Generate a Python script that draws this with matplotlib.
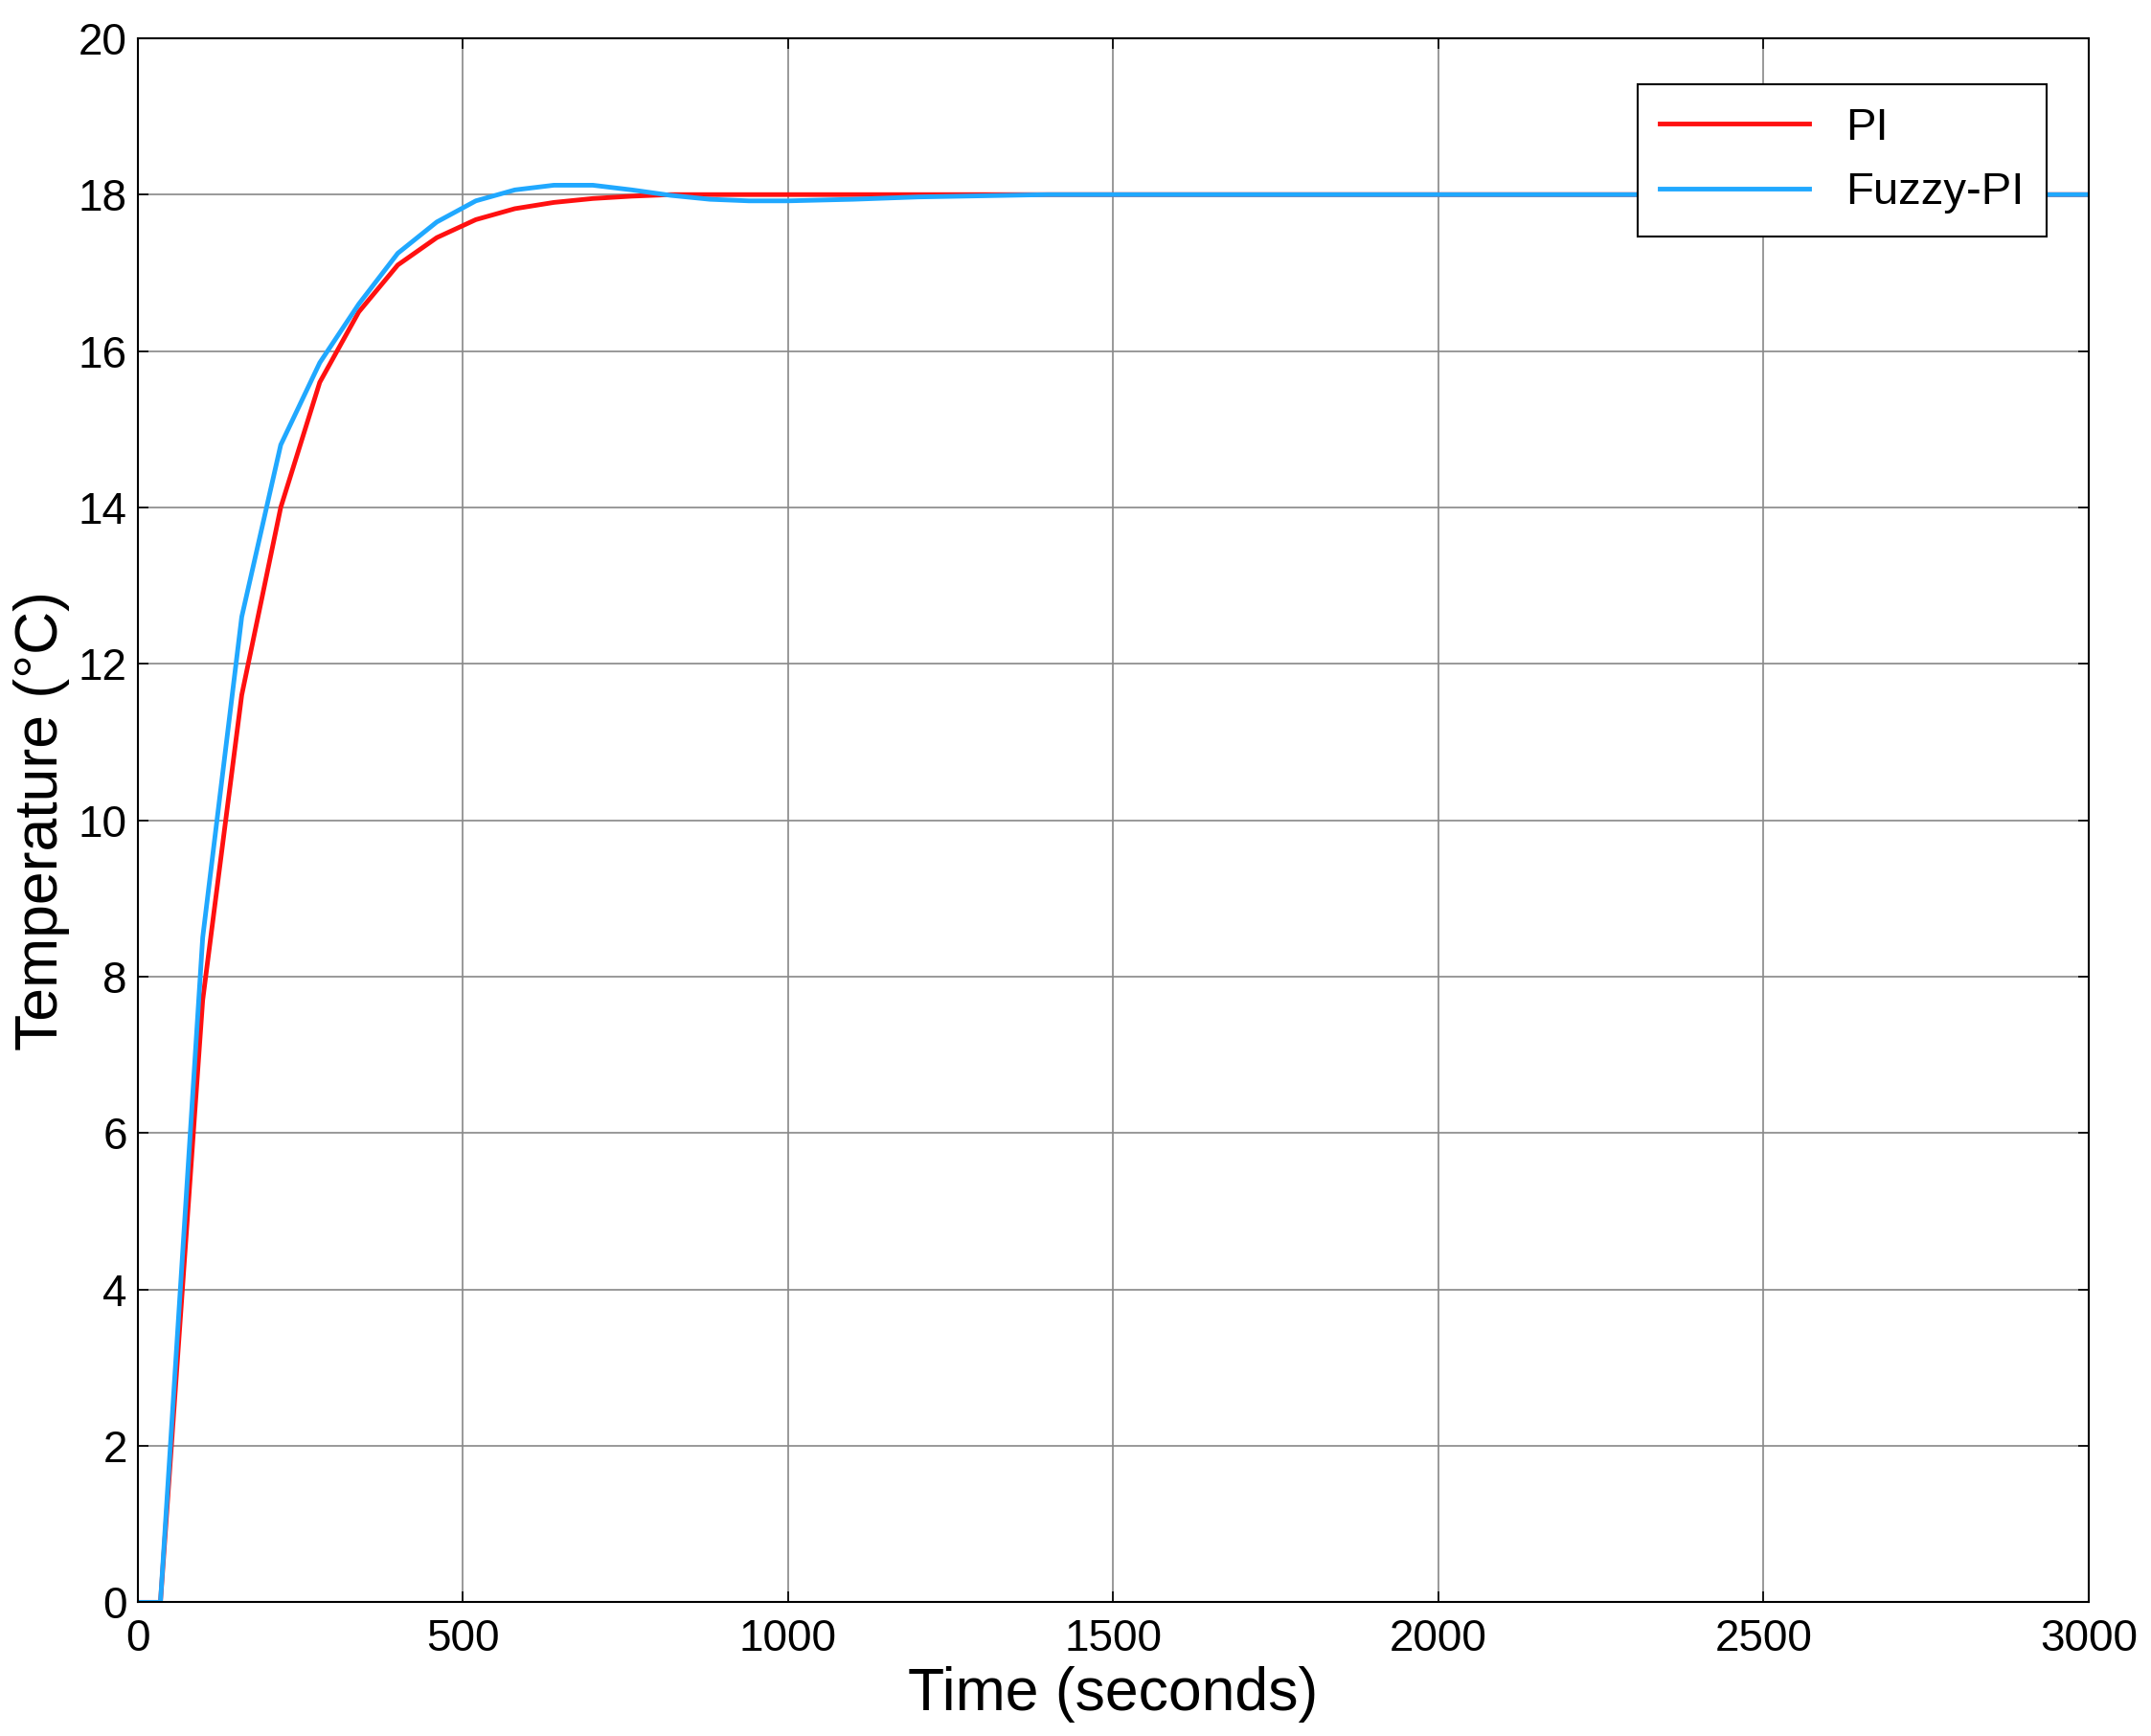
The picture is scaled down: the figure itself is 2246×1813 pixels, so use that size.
import matplotlib.pyplot as plt

plt.rcParams['font.family'] = ['Liberation Sans', 'DejaVu Sans']

# Step response data
t_pi = [0, 35, 100, 160, 220, 280, 340, 400, 460, 520, 580, 640, 700, 760, 820, 1000, 3000]
y_pi = [0, 0, 7.7, 11.6, 14.0, 15.6, 16.5, 17.1, 17.45, 17.68, 17.82, 17.9, 17.95, 17.98, 18.0, 18.0, 18.0]

t_fz = [0, 35, 100, 160, 220, 280, 340, 400, 460, 520, 580, 640, 700, 760, 820, 880, 940, 1000, 1100, 1200, 1400, 3000]
y_fz = [0, 0, 8.5, 12.6, 14.8, 15.85, 16.6, 17.25, 17.65, 17.92, 18.06, 18.12, 18.12, 18.06, 17.99,
        17.94, 17.92, 17.92, 17.94, 17.97, 18.0, 18.0]

fig = plt.figure(figsize=(22.46, 18.13), dpi=100)
ax = fig.add_axes([0.064, 0.077, 0.907, 0.901])

ax.plot(t_pi, y_pi, color='#ff1010', linewidth=3.5, label='PI')
ax.plot(t_fz, y_fz, color='#20a8ff', linewidth=3.5, label='Fuzzy-PI')

ax.set_xlim(0, 3000)
ax.set_ylim(0, 20)
ax.set_xticks(range(0, 3001, 500))
ax.set_yticks(range(0, 21, 2))
ax.tick_params(labelsize=33, direction='in', length=8, width=1.2, top=True, right=True)
ax.tick_params(axis='x', pad=12)
ax.tick_params(axis='y', pad=8)
ax.grid(True, color='#888888', linewidth=1.2)
for s in ax.spines.values():
    s.set_linewidth(1.5)

ax.set_xlabel('Time (seconds)', fontsize=45, labelpad=4)
ax.set_ylabel('Temperature (°C)', fontsize=45, labelpad=6)

leg = ax.legend(loc='upper right', fontsize=34, fancybox=False, framealpha=1,
                edgecolor='black', handlelength=3.3, borderpad=0.5,
                bbox_to_anchor=(0.99, 0.985))
leg.get_frame().set_linewidth(1.5)

fig.savefig('out.png', dpi=100)
